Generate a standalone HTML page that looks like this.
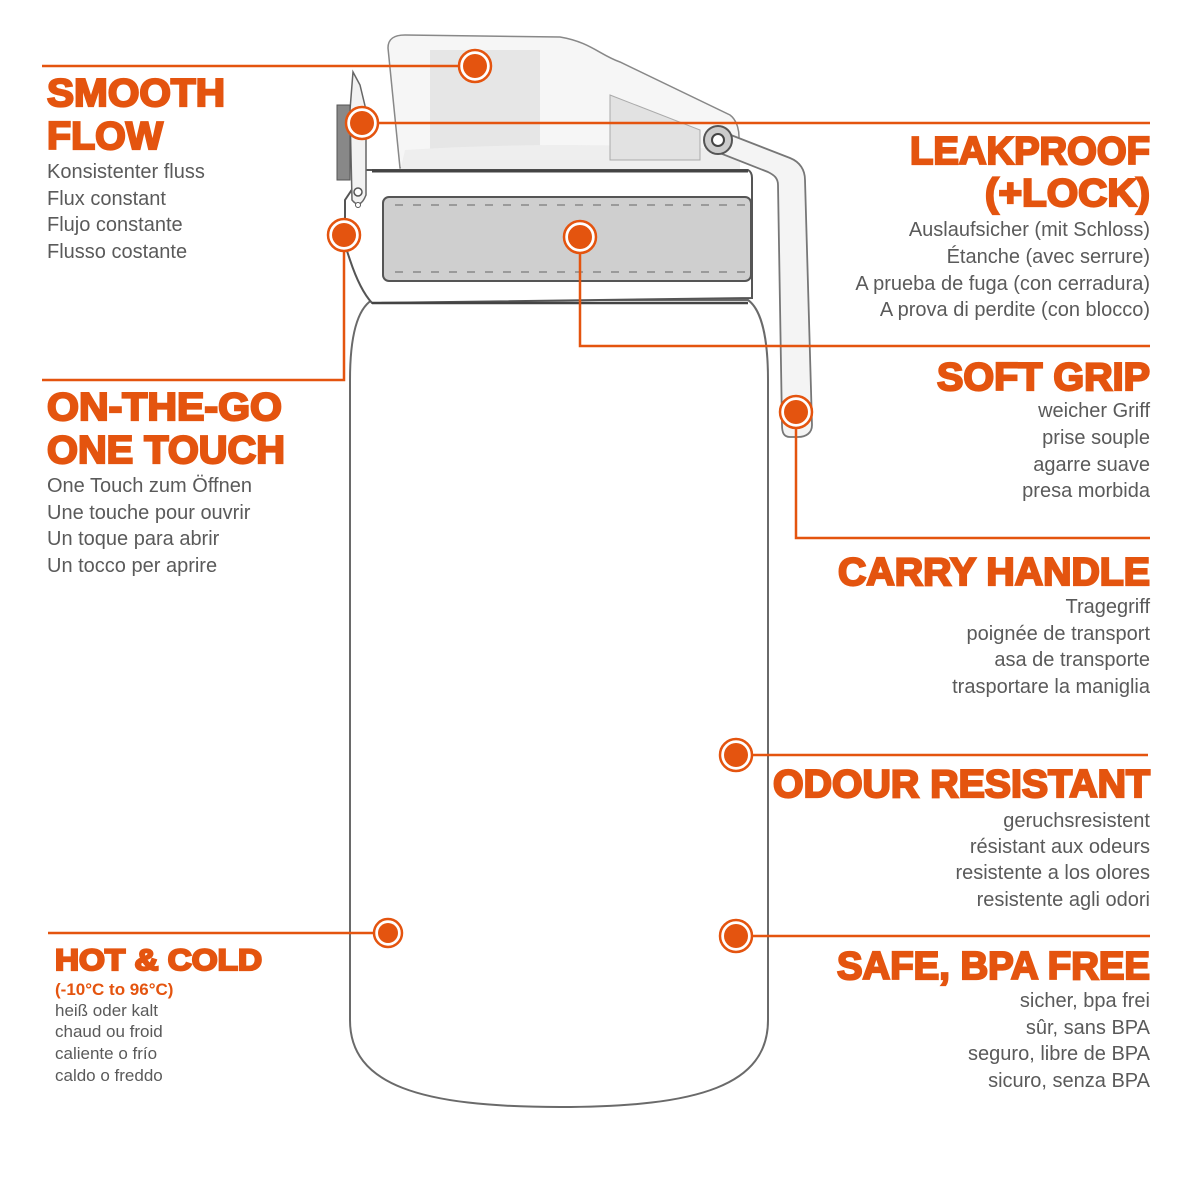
<!DOCTYPE html>
<html><head><meta charset="utf-8"><style>
html,body{margin:0;padding:0;background:#fff;width:1200px;height:1200px;overflow:hidden}
.h{font-family:"Liberation Sans",sans-serif;font-weight:bold;fill:#e4540f;stroke:#e4540f;stroke-width:2.2;font-size:39px}
.s{font-family:"Liberation Sans",sans-serif;fill:#5a5a5a;font-size:20px}
.ss{font-family:"Liberation Sans",sans-serif;fill:#5a5a5a;font-size:17px}
.ln{stroke:#e4540f;stroke-width:2.5;fill:none}
.bo{stroke:#6a6a6a;stroke-width:2;fill:#fff}
</style></head><body>
<svg width="1200" height="1200" viewBox="0 0 1200 1200" xmlns="http://www.w3.org/2000/svg">
<!-- bottle body -->
<path class="bo" d="M350,380 C350,340 356,310 372,300 L748,300 C762,310 768,340 768,380 L768,1020 C768,1085 700,1107 560,1107 C420,1107 350,1085 350,1020 Z"/>
<!-- lid -->
<path d="M388,48 C388,38 395,35 405,35 L560,37 C590,42 600,55 620,62 L730,115 C742,124 742,150 730,158 L400,168 Z" fill="#f6f6f6" stroke="#888" stroke-width="1.5"/>
<rect x="430" y="50" width="110" height="110" fill="#e6e6e6"/>
<path d="M405,150 Q560,140 740,150 L740,170 L400,172 Z" fill="#eee"/>
<path d="M610,95 L700,130 L700,160 L610,160 Z" fill="#e2e2e2" stroke="#aaa" stroke-width="1"/>
<!-- handle -->
<path d="M718,130 L790,158 C800,162 805,170 805,180 L812,425 C812,433 806,437 798,437 L790,437 C784,437 782,433 782,425 L778,185 C778,178 774,175 768,172 L712,150 Z" fill="#f4f4f4" stroke="#777" stroke-width="1.8"/>
<circle cx="718" cy="140" r="14" fill="#ccc" stroke="#555" stroke-width="2"/>
<circle cx="718" cy="140" r="6" fill="#fff" stroke="#444" stroke-width="2"/>
<!-- collar -->
<path d="M372,170 L748,170 Q752,172 752,178 L752,298 L372,303 Q360,290 350,260 L345,245 L345,200 L365,170 Z" fill="#fff" stroke="#555" stroke-width="2"/>
<line x1="372" y1="171" x2="748" y2="171" stroke="#444" stroke-width="3"/>
<rect x="383" y="197" width="368" height="84" rx="6" fill="#cfcfcf" stroke="#555" stroke-width="2"/>
<line x1="395" y1="205" x2="750" y2="205" stroke="#888" stroke-width="1.5" stroke-dasharray="8,10"/>
<line x1="395" y1="272" x2="750" y2="272" stroke="#888" stroke-width="1.5" stroke-dasharray="8,10"/>
<line x1="372" y1="303" x2="748" y2="303" stroke="#444" stroke-width="2.5"/>
<!-- latch -->
<path d="M353,72 L360,85 L366,110 L366,195 Q360,210 352,200 L350,110 Z" fill="#f2f2f2" stroke="#666" stroke-width="1.5"/>
<path d="M337,105 L350,105 L350,180 L337,180 Z" fill="#888" stroke="#555" stroke-width="1"/>
<circle cx="358" cy="192" r="4" fill="#fff" stroke="#555" stroke-width="1.5"/>
<circle cx="358" cy="205" r="2.5" fill="#fff" stroke="#555" stroke-width="1"/>

<!-- connectors -->
<polyline class="ln" points="42,66 475,66"/>
<polyline class="ln" points="362,123 1150,123"/>
<polyline class="ln" points="344,235 344,380 42,380"/>
<polyline class="ln" points="580,237 580,346 1150,346"/>
<polyline class="ln" points="796,412 796,538 1150,538"/>
<polyline class="ln" points="736,755 1148,755"/>
<polyline class="ln" points="48,933 388,933"/>
<polyline class="ln" points="736,936 1150,936"/>
<g fill="#e4540f" stroke="#fff" stroke-width="3">
<g id="d">
</g>
</g>
<g>
<circle cx="475" cy="66" r="16" fill="#fff" stroke="#e4540f" stroke-width="2.5"/><circle cx="475" cy="66" r="12" fill="#e4540f"/>
<circle cx="362" cy="123" r="16" fill="#fff" stroke="#e4540f" stroke-width="2.5"/><circle cx="362" cy="123" r="12" fill="#e4540f"/>
<circle cx="344" cy="235" r="16" fill="#fff" stroke="#e4540f" stroke-width="2.5"/><circle cx="344" cy="235" r="12" fill="#e4540f"/>
<circle cx="580" cy="237" r="16" fill="#fff" stroke="#e4540f" stroke-width="2.5"/><circle cx="580" cy="237" r="12" fill="#e4540f"/>
<circle cx="796" cy="412" r="16" fill="#fff" stroke="#e4540f" stroke-width="2.5"/><circle cx="796" cy="412" r="12" fill="#e4540f"/>
<circle cx="736" cy="755" r="16" fill="#fff" stroke="#e4540f" stroke-width="2.5"/><circle cx="736" cy="755" r="12" fill="#e4540f"/>
<circle cx="388" cy="933" r="14" fill="#fff" stroke="#e4540f" stroke-width="2.5"/><circle cx="388" cy="933" r="10" fill="#e4540f"/>
<circle cx="736" cy="936" r="16" fill="#fff" stroke="#e4540f" stroke-width="2.5"/><circle cx="736" cy="936" r="12" fill="#e4540f"/>
</g>

<!-- left texts -->
<text class="h" x="47" y="106" textLength="178" lengthAdjust="spacingAndGlyphs">SMOOTH</text>
<text class="h" x="47" y="149" textLength="116" lengthAdjust="spacingAndGlyphs">FLOW</text>
<text class="s" x="47" y="178">Konsistenter fluss</text>
<text class="s" x="47" y="205">Flux constant</text>
<text class="s" x="47" y="231">Flujo constante</text>
<text class="s" x="47" y="258">Flusso costante</text>

<text class="h" x="47" y="420" textLength="235" lengthAdjust="spacingAndGlyphs">ON-THE-GO</text>
<text class="h" x="47" y="463" textLength="238" lengthAdjust="spacingAndGlyphs">ONE TOUCH</text>
<text class="s" x="47" y="492">One Touch zum Öffnen</text>
<text class="s" x="47" y="519">Une touche pour ouvrir</text>
<text class="s" x="47" y="545">Un toque para abrir</text>
<text class="s" x="47" y="572">Un tocco per aprire</text>

<text class="h" x="55" y="970" style="font-size:30px" textLength="207" lengthAdjust="spacingAndGlyphs">HOT &amp; COLD</text>
<text x="55" y="995" style="font-family:'Liberation Sans',sans-serif;font-weight:bold;font-size:17px;fill:#e4540f">(-10°C to 96°C)</text>
<text class="ss" x="55" y="1016">heiß oder kalt</text>
<text class="ss" x="55" y="1037">chaud ou froid</text>
<text class="ss" x="55" y="1059">caliente o frío</text>
<text class="ss" x="55" y="1081">caldo o freddo</text>

<!-- right texts -->
<g text-anchor="end">
<text class="h" x="1150" y="164" textLength="240" lengthAdjust="spacingAndGlyphs">LEAKPROOF</text>
<text class="h" x="1150" y="206" textLength="165" lengthAdjust="spacingAndGlyphs">(+LOCK)</text>
<text class="s" x="1150" y="236">Auslaufsicher (mit Schloss)</text>
<text class="s" x="1150" y="263">Étanche (avec serrure)</text>
<text class="s" x="1150" y="290">A prueba de fuga (con cerradura)</text>
<text class="s" x="1150" y="316">A prova di perdite (con blocco)</text>

<text class="h" x="1150" y="390" textLength="213" lengthAdjust="spacingAndGlyphs">SOFT GRIP</text>
<text class="s" x="1150" y="417">weicher Griff</text>
<text class="s" x="1150" y="444">prise souple</text>
<text class="s" x="1150" y="471">agarre suave</text>
<text class="s" x="1150" y="497">presa morbida</text>

<text class="h" x="1150" y="585" textLength="312" lengthAdjust="spacingAndGlyphs">CARRY HANDLE</text>
<text class="s" x="1150" y="613">Tragegriff</text>
<text class="s" x="1150" y="640">poignée de transport</text>
<text class="s" x="1150" y="666">asa de transporte</text>
<text class="s" x="1150" y="693">trasportare la maniglia</text>

<text class="h" x="1150" y="797" textLength="377" lengthAdjust="spacingAndGlyphs">ODOUR RESISTANT</text>
<text class="s" x="1150" y="827">geruchsresistent</text>
<text class="s" x="1150" y="853">résistant aux odeurs</text>
<text class="s" x="1150" y="879">resistente a los olores</text>
<text class="s" x="1150" y="906">resistente agli odori</text>

<text class="h" x="1150" y="979" textLength="313" lengthAdjust="spacingAndGlyphs">SAFE, BPA FREE</text>
<text class="s" x="1150" y="1007">sicher, bpa frei</text>
<text class="s" x="1150" y="1034">sûr, sans BPA</text>
<text class="s" x="1150" y="1060">seguro, libre de BPA</text>
<text class="s" x="1150" y="1087">sicuro, senza BPA</text>
</g>
</svg>
</body></html>
